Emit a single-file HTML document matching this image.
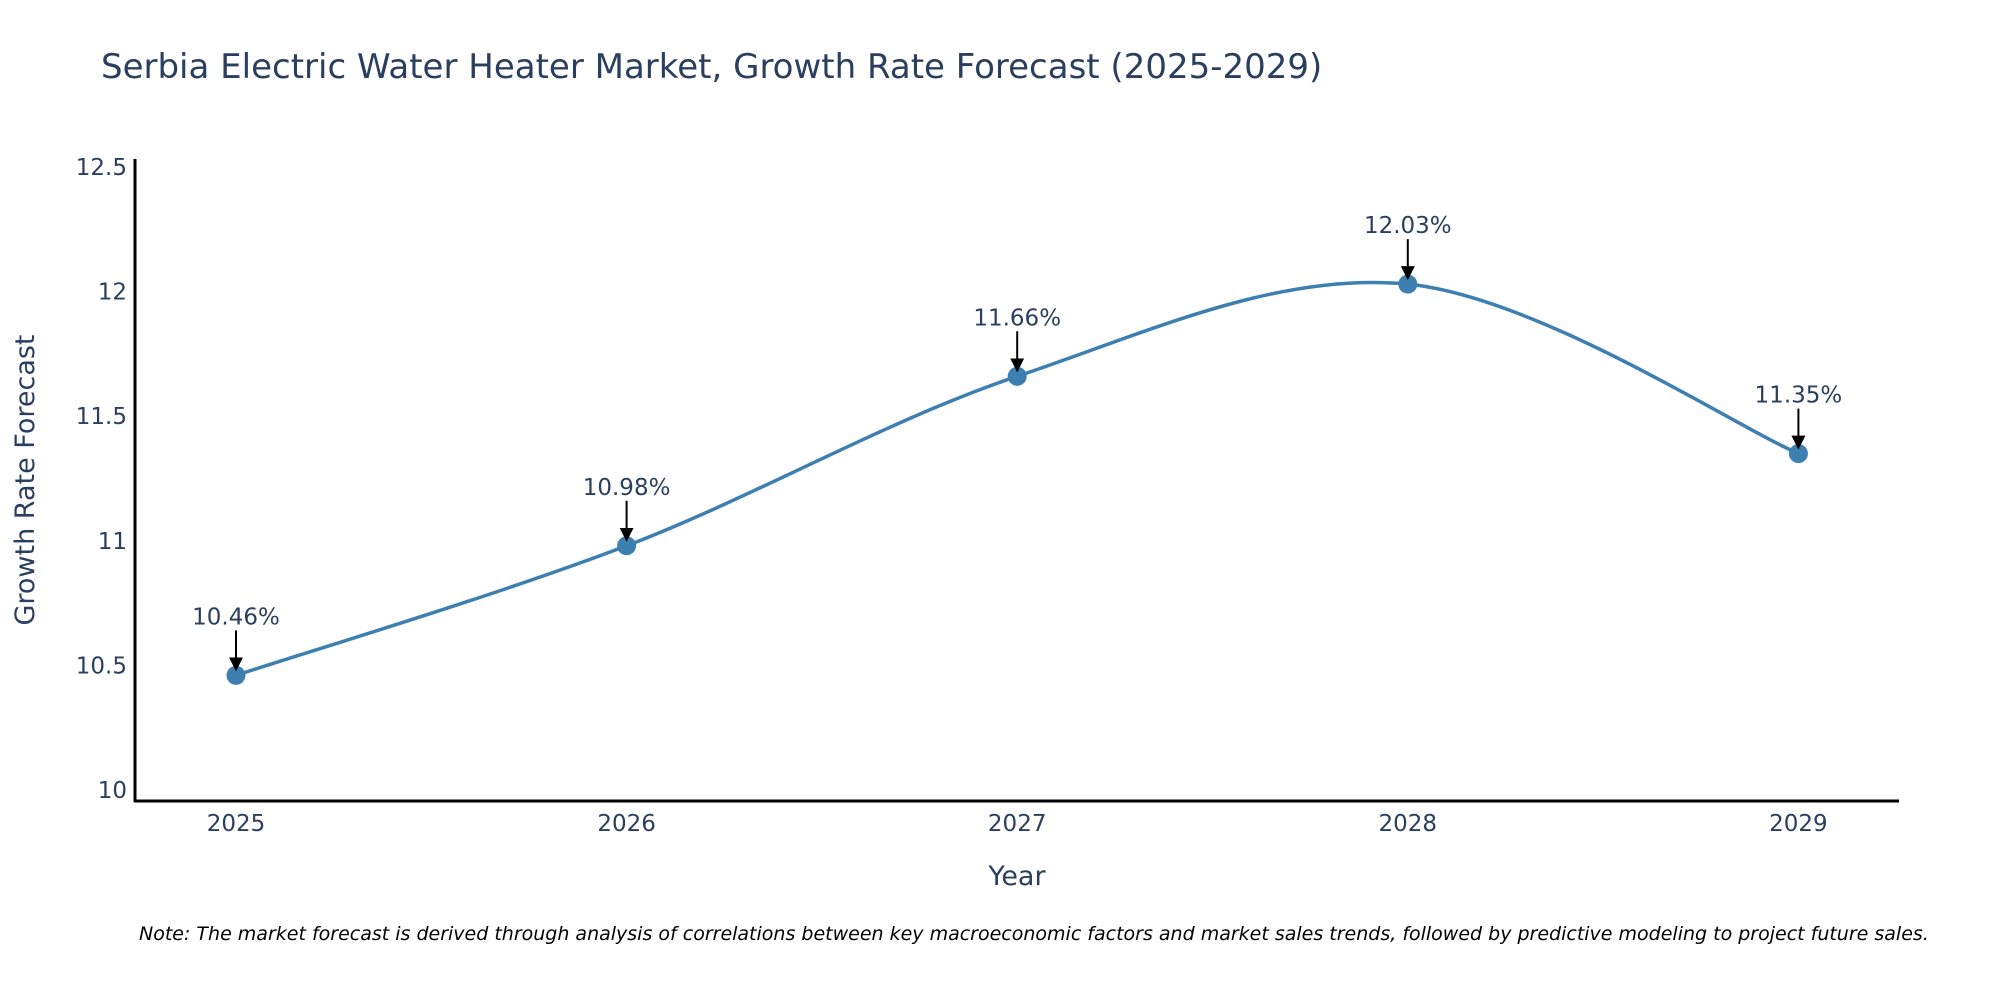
<!DOCTYPE html>
<html><head><meta charset="utf-8"><style>
body{margin:0;background:#fff;}
svg{display:block;font-family:"DejaVu Sans","Liberation Sans",sans-serif;}
</style></head><body>
<svg id="chart" width="2000" height="1000" viewBox="0 0 2000 1000">
<defs><marker id="ah" markerWidth="7" markerHeight="7" refX="6" refY="3.5" orient="auto" markerUnits="strokeWidth"><path d="M0,0 L7,3.5 L0,7 z" fill="#000"/></marker></defs>
<text x="101" y="78" font-size="34" fill="#2a3f5f">Serbia Electric Water Heater Market, Growth Rate Forecast (2025-2029)</text>
<g id="yticks"></g>
<g id="xticks"></g>
<path id="line" fill="none" stroke="#3c7fb0" stroke-width="3.5"/>
<g id="pts"></g>
<g id="ann"></g>
<line x1="135" y1="159" x2="135" y2="802" stroke="#000" stroke-width="3"/>
<line x1="134" y1="801" x2="1899" y2="801" stroke="#000" stroke-width="3"/>
<text x="34" y="480" font-size="27" fill="#2a3f5f" text-anchor="middle" transform="rotate(-90 34 480)">Growth Rate Forecast</text>
<text x="1017" y="885" font-size="27" fill="#2a3f5f" text-anchor="middle">Year</text>
<text x="139" y="940" font-size="19" font-style="italic" fill="#000">Note: The market forecast is derived through analysis of correlations between key macroeconomic factors and market sales trends, followed by predictive modeling to project future sales.</text>
</svg>
<script>
const years=[2025,2026,2027,2028,2029];
const values=[10.46,10.98,11.66,12.03,11.35];
const labels=["10.46%","10.98%","11.66%","12.03%","11.35%"];
const yTicks=[10,10.5,11,11.5,12,12.5];
const yTickLabels=["10","10.5","11","11.5","12","12.5"];
const NS="http://www.w3.org/2000/svg";
const xs=v=>236+(v-2025)*390.6;
const ys=v=>790-(v-10)*249.2;
function mk(t,a,p){const e=document.createElementNS(NS,t);for(const k in a)e.setAttribute(k,a[k]);p.appendChild(e);return e;}
const yt=document.getElementById('yticks');
yTicks.forEach((v,i)=>{const t=mk('text',{x:127,y:ys(v)+8,'font-size':23,fill:'#2a3f5f','text-anchor':'end'},yt);


t.textContent=yTickLabels[i];});
const xt=document.getElementById('xticks');
years.forEach(y=>{const t=mk('text',{x:xs(y),y:831,'font-size':23,fill:'#2a3f5f','text-anchor':'middle'},xt);


t.textContent=y;});
const P=years.map((y,i)=>[xs(y),ys(values[i])]);
let d=`M${P[0][0]},${P[0][1]}`;
for(let i=0;i<P.length-1;i++){const p0=P[Math.max(i-1,0)],p1=P[i],p2=P[i+1],p3=P[Math.min(i+2,P.length-1)];
const c1=[p1[0]+(p2[0]-p0[0])/6,p1[1]+(p2[1]-p0[1])/6],c2=[p2[0]-(p3[0]-p1[0])/6,p2[1]-(p3[1]-p1[1])/6];
d+=` C${c1[0]},${c1[1]} ${c2[0]},${c2[1]} ${p2[0]},${p2[1]}`;}
document.getElementById('line').setAttribute('d',d);
const pts=document.getElementById('pts'),ann=document.getElementById('ann');
P.forEach((p,i)=>{const c=mk('circle',{cx:p[0],cy:p[1],r:9.5,fill:'#3c7fb0'},pts);


const l=mk('line',{x1:p[0],y1:p[1]-45,x2:p[0],y2:p[1]-6,stroke:'#000','stroke-width':2,'marker-end':'url(#ah)'},ann);


const t=mk('text',{x:p[0],y:p[1]-51,'font-size':23,fill:'#2a3f5f','text-anchor':'middle'},ann);


t.textContent=labels[i];});
</script>
</body></html>
